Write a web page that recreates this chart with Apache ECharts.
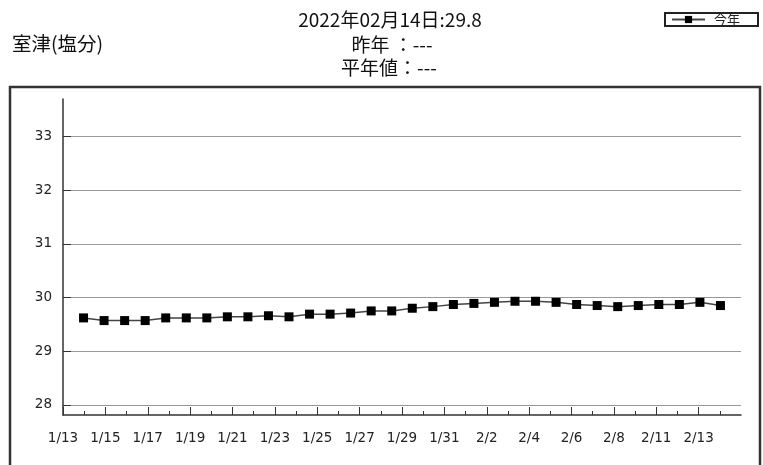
<!DOCTYPE html>
<html>
<head>
<meta charset="utf-8">
<script src="https://cdn.jsdelivr.net/npm/echarts@6/dist/echarts.min.js"></script>
<style>
  html, body { margin: 0; padding: 0; background: #fff; }
  #chart { width: 763px; height: 465px; }
</style>
</head>
<body>
<div id="chart"></div>
<script>
const station = "室津(塩分)";
const reportDate = "2022年02月14日";
const latest = "29.8";
const lastYear = "---";
const normal = "---";
const seriesName = "今年";

// one point per day, 1/14 .. 2/14
const days = ["1/14", "1/15", "1/16", "1/17", "1/18", "1/19", "1/20", "1/21", "1/22", "1/23",
  "1/24", "1/25", "1/26", "1/27", "1/28", "1/29", "1/30", "1/31", "2/1", "2/2", "2/3",
  "2/4", "2/5", "2/6", "2/7", "2/8", "2/9", "2/10", "2/11", "2/12", "2/13", "2/14"];
const salinity = [29.62, 29.57, 29.57, 29.57, 29.62, 29.62, 29.62, 29.64, 29.64, 29.66,
  29.64, 29.69, 29.69, 29.71, 29.75, 29.75, 29.80, 29.83, 29.87, 29.89, 29.91,
  29.93, 29.93, 29.91, 29.87, 29.85, 29.83, 29.85, 29.87, 29.87, 29.91, 29.85];

// tick labels printed under the axis (every other tick)
const tickLabels = ["1/13", "1/15", "1/17", "1/19", "1/21", "1/23", "1/25", "1/27",
  "1/29", "1/31", "2/2", "2/4", "2/6", "2/8", "2/11", "2/13"];
const yTicks = [28, 29, 30, 31, 32, 33];

const majorTicks = tickLabels.map((t, i) => i * 2);
const minorTicks = tickLabels.map((t, i) => i * 2 + 1);
const cats = ["1/13"].concat(days, ["2/15"]);

const chart = echarts.init(document.getElementById("chart"));
const labelFont = { fontFamily: "DejaVu Sans", fontSize: 13.5, color: "#222" };
const cjk = "Noto Sans CJK JP";

chart.setOption({
  animation: false,
  grid: { left: 63, right: 22, top: 99, bottom: 50 },
  graphic: [
    { type: "rect", shape: { x: 10, y: 87, width: 750, height: 420 },
      style: { fill: "none", stroke: "#333", lineWidth: 2.5 } },
    { type: "text", x: 12, y: 44,
      style: { text: station, font: "19.5px '" + cjk + "'", fill: "#111",
        verticalAlign: "middle" } },
    { type: "text", x: 390, y: 20,
      style: { text: reportDate + ":" + latest, font: "19px '" + cjk + "'", fill: "#111",
        align: "center", verticalAlign: "middle" } },
    { type: "text", x: 392, y: 45,
      style: { text: "昨年 ：" + lastYear, font: "19px '" + cjk + "'", fill: "#111",
        align: "center", verticalAlign: "middle" } },
    { type: "text", x: 389, y: 68,
      style: { text: "平年値：" + normal, font: "19px '" + cjk + "'", fill: "#111",
        align: "center", verticalAlign: "middle" } }
  ],
  legend: {
    left: 665, top: 13,
    padding: [0, 18, 0, 6],
    borderColor: "#222", borderWidth: 2,
    itemWidth: 33, itemHeight: 9,
    textStyle: { fontFamily: cjk, fontSize: 13, color: "#222", padding: [0, 0, 0, 4] },
    data: [seriesName]
  },
  xAxis: [
    { // labelled ticks
      type: "value", min: 0, max: 32, position: "bottom",
      axisLine: { show: true, lineStyle: { color: "#333", width: 1.5 } },
      axisTick: { show: true, inside: true, length: 8, customValues: majorTicks,
        lineStyle: { color: "#333" } },
      axisLabel: { customValues: majorTicks, margin: 16, ...labelFont,
        formatter: v => tickLabels[v / 2] || "" },
      splitLine: { show: false }
    },
    { // short in-between ticks
      type: "value", min: 0, max: 32, position: "bottom",
      axisLine: { show: false },
      axisTick: { show: true, inside: true, length: 4, customValues: minorTicks,
        lineStyle: { color: "#333" } },
      axisLabel: { show: false },
      splitLine: { show: false }
    },
    { // data axis
      type: "category", data: cats, boundaryGap: false, show: false
    }
  ],
  yAxis: {
    type: "value", min: 27.81, max: 33.7,
    axisLine: { show: true, lineStyle: { color: "#333", width: 1.5 } },
    axisTick: { show: true, inside: true, length: 8, customValues: yTicks,
      lineStyle: { color: "#333" } },
    axisLabel: { customValues: yTicks, margin: 11, ...labelFont },
    splitLine: { show: true, lineStyle: { color: "#999", width: 1 } }
  },
  series: [{
    name: seriesName, type: "line", xAxisIndex: 2,
    data: days.map((d, i) => [d, salinity[i]]),
    symbol: "rect", symbolSize: 9,
    itemStyle: { color: "#000" },
    lineStyle: { color: "#444", width: 1.5 }
  }]
});
</script>
</body>
</html>
